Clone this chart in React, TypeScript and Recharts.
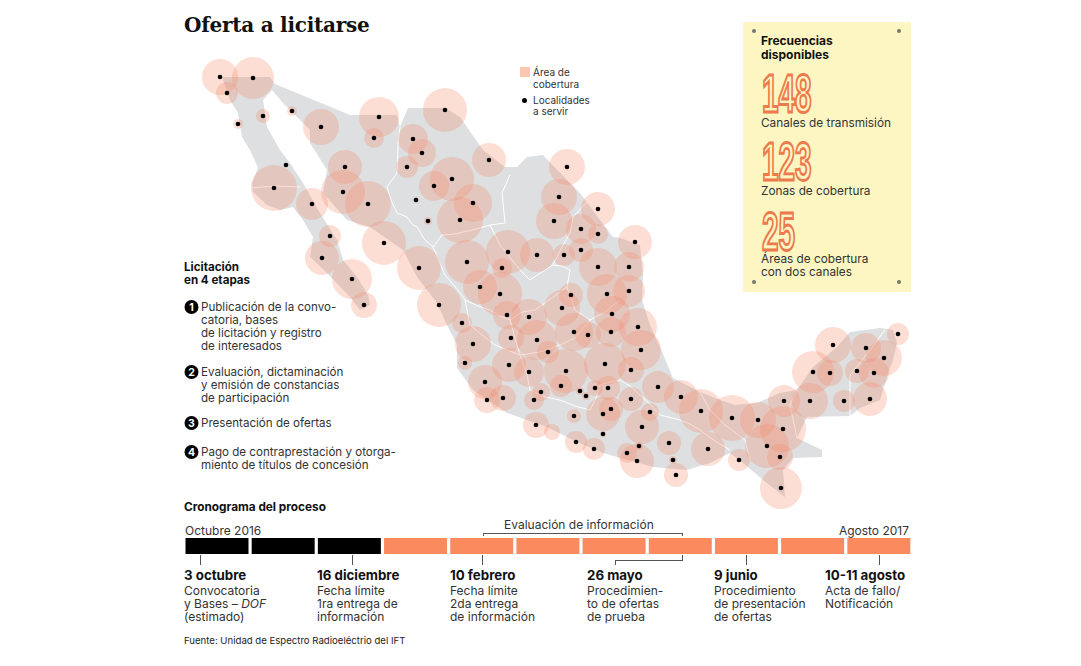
import React from 'react';
import { BarChart, Bar, Cell, ScatterChart, Scatter, XAxis, YAxis } from 'recharts';

const mapOutline = [
  [222, 77], [230, 100], [238, 113], [242, 137], [250, 150], [258, 168], [252, 183], [253, 192], [267, 205], [280, 210],
  [293, 207], [303, 220], [313, 237], [310, 257], [327, 273], [350, 297], [360, 310], [370, 305], [368, 295], [357, 277],
  [343, 260], [337, 240], [320, 213], [303, 183], [290, 163], [280, 150], [267, 127], [263, 100], [272, 90], [283, 103],
  [310, 130], [310, 143], [327, 170], [323, 193], [347, 220], [370, 227], [403, 250], [417, 277], [437, 303], [447, 325],
  [457, 345], [457, 368], [473, 390], [507, 413], [547, 427], [573, 440], [603, 453], [653, 467], [687, 470], [710, 463],
  [730, 453], [743, 463], [763, 480], [785, 497], [783, 470], [793, 458], [822, 457], [822, 450], [797, 438], [807, 417],
  [850, 416], [860, 408], [880, 400], [887, 377], [893, 360], [897, 343], [893, 330], [880, 328], [850, 332], [837, 347],
  [813, 367], [797, 390], [780, 393], [757, 403], [735, 405], [715, 398], [700, 392], [673, 378], [660, 347], [650, 325],
  [642, 300], [643, 275], [640, 245], [620, 238], [613, 237], [600, 220], [580, 193], [567, 180], [543, 155], [527, 157],
  [517, 167], [505, 167], [483, 150], [460, 117], [445, 108], [408, 108], [400, 127], [397, 115], [350, 115], [275, 84],
  [270, 77],
];

const stateBorders = [
  [[250, 188], [275, 186], [300, 187]],
  [[400, 127], [398, 145], [397, 173], [387, 187], [391, 200], [397, 213], [407, 217], [412, 224], [417, 227], [425, 240], [433, 247], [442, 235], [455, 234], [472, 230], [480, 228], [490, 225], [505, 223], [502, 193], [510, 175]],
  [[587, 202], [573, 217], [570, 233], [562, 247], [553, 265], [562, 266], [570, 270], [567, 287], [575, 310], [590, 320]],
  [[490, 225], [500, 245], [520, 270], [530, 280], [542, 272], [553, 265]],
  [[433, 247], [445, 275], [458, 290], [465, 300], [478, 306], [490, 310], [500, 316], [510, 320], [522, 312], [535, 310], [552, 298], [567, 287]],
  [[465, 300], [470, 325], [482, 335], [495, 345], [508, 350], [520, 355], [540, 352], [560, 345], [575, 338], [590, 320], [605, 312], [620, 300]],
  [[510, 320], [515, 338], [520, 355], [527, 375], [530, 390], [545, 397], [560, 400], [575, 406], [590, 410], [596, 398], [600, 385], [610, 382], [620, 380]],
  [[620, 380], [630, 386], [640, 395], [650, 404], [660, 415], [680, 420], [690, 424], [700, 430], [715, 441], [730, 450]],
  [[700, 392], [710, 410], [725, 425], [745, 440], [750, 460]],
  [[797, 390], [790, 405], [797, 438]],
  [[850, 416], [850, 375], [870, 350], [885, 330]],
];

// x, y, radius of each coverage area
const coverageAreas = [
  [220, 77, 18], [253, 78, 21], [227, 93, 11], [263, 116, 7], [238, 124, 5], [292, 111, 5], [321, 127, 18], [379, 117, 20],
  [374, 138, 10], [445, 110, 22], [413, 139, 15], [422, 153, 14], [407, 167, 11], [489, 160, 17], [345, 167, 17], [343, 192, 22],
  [368, 204, 23], [274, 188, 23], [286, 165, 2], [312, 204, 16], [434, 186, 15], [452, 179, 22], [416, 200, 3], [473, 203, 19],
  [460, 220, 23], [428, 221, 4], [330, 236, 11], [384, 243, 22], [322, 258, 17], [352, 279, 20], [364, 305, 13], [419, 268, 22],
  [467, 262, 22], [508, 252, 22], [502, 268, 10], [537, 255, 17], [480, 287, 17], [500, 294, 22], [439, 305, 22], [507, 315, 14],
  [529, 317, 18], [567, 167, 18], [559, 197, 18], [554, 221, 18], [598, 209, 17], [581, 229, 15], [598, 234, 10], [635, 242, 17],
  [581, 250, 12], [564, 255, 11], [598, 267, 19], [629, 267, 15], [629, 291, 16], [607, 294, 20], [571, 295, 12], [562, 308, 18],
  [612, 314, 18], [638, 327, 19], [462, 323, 10], [473, 344, 18], [511, 338, 13], [537, 340, 20], [574, 332, 19], [588, 335, 13],
  [611, 332, 15], [641, 350, 20], [465, 363, 7], [485, 382, 17], [487, 400, 13], [503, 398, 13], [548, 352, 11], [509, 365, 17],
  [529, 372, 15], [566, 371, 22], [561, 386, 11], [541, 392, 9], [534, 400, 10], [605, 364, 21], [631, 370, 13], [658, 387, 16],
  [681, 397, 17], [580, 391, 4], [586, 396, 4], [595, 388, 8], [608, 388, 12], [631, 399, 12], [611, 409, 12], [603, 414, 17],
  [650, 412, 9], [642, 427, 17], [574, 416, 7], [536, 425, 13], [552, 432, 8], [576, 442, 11], [594, 449, 11], [603, 434, 3],
  [639, 446, 4], [627, 453, 10], [637, 461, 17], [669, 443, 12], [673, 460, 4], [676, 475, 12], [701, 411, 22], [732, 418, 23],
  [708, 449, 17], [739, 460, 11], [758, 420, 18], [784, 401, 16], [783, 429, 23], [767, 446, 22], [780, 457, 13], [781, 488, 21],
  [810, 401, 18], [813, 372, 21], [830, 373, 13], [833, 345, 18], [866, 348, 15], [898, 334, 11], [884, 358, 18], [857, 371, 12],
  [874, 373, 15], [870, 399, 17], [844, 401, 11],
];

const noLocality = [[552, 432]];

const months = ['oct', 'nov', 'dic', 'ene', 'feb', 'mar', 'abr', 'may', 'jun', 'jul', 'ago'];
const doneMonths = 3;

const frequencies = [
  { value: '148', label: ['Canales de transmisión'] },
  { value: '123', label: ['Zonas de cobertura'] },
  { value: '25', label: ['Áreas de cobertura', 'con dos canales'] },
];

const stages = [
  ['Publicación de la convo-', 'catoria, bases', 'de licitación y registro', 'de interesados'],
  ['Evaluación, dictaminación', 'y emisión de constancias', 'de participación'],
  ['Presentación de ofertas'],
  ['Pago de contraprestación y otorga-', 'miento de títulos de concesión'],
];

const milestones = [
  { date: '3 octubre', text: ['Convocatoria', 'y Bases – ', '(estimado)'] },
  { date: '16 diciembre', text: ['Fecha límite', '1ra entrega de', 'información'] },
  { date: '10 febrero', text: ['Fecha límite', '2da entrega', 'de información'] },
  { date: '26 mayo', text: ['Procedimien-', 'to de ofertas', 'de prueba'] },
  { date: '9 junio', text: ['Procedimiento', 'de presentación', 'de ofertas'] },
  { date: '10-11 agosto', text: ['Acta de fallo/', 'Notificación'] },
];

const toPoints = (rows: number[][]) => rows.map(([x, y, r]) => ({ x, y, r }));
const localities = toPoints(coverageAreas.filter(([x, y]) => !noLocality.some(([a, b]) => a === x && b === y)));
const monthRows = months.map((month) => ({ month, value: 1 }));

const SANS = 'Inter, sans-serif';
const stageTops = [307, 372, 423, 452];
const milestoneLefts = [184, 317, 450, 587, 714, 825];
const tickLefts = [200, 352, 482, 746, 879];
const numberTops = [74, 142, 212];
const labelTops = [123, 191, 259];
const cornerDots = [[754, 31], [899, 31], [754, 282], [899, 282]];

const Txt: React.FC<{ x: number; y: number; size?: number; bold?: boolean; color?: string; right?: boolean; font?: string; spacing?: number; children: React.ReactNode }> = ({ x, y, size = 11.6, bold, color = '#333', right, font = SANS, spacing, children }) => (
  <div
    style={{
      position: 'absolute',
      top: y - 6,
      height: 12,
      lineHeight: '12px',
      left: right ? undefined : x,
      right: right ? 1081 - x : undefined,
      fontFamily: font,
      fontSize: size,
      fontWeight: bold ? 700 : 400,
      letterSpacing: spacing,
      color: bold ? '#111' : color,
      whiteSpace: 'nowrap',
    }}
  >
    {children}
  </div>
);

const Rule: React.FC<{ x: number; y: number; w: number; h: number; color?: string }> = ({ x, y, w, h, color = '#555' }) => (
  <div style={{ position: 'absolute', left: x, top: y, width: w, height: h, background: color }} />
);

const CoverageCircle = (props: any) => <circle cx={props.cx} cy={props.cy} r={props.payload.r} fill="#f58a68" fillOpacity={0.28} />;
const LocalityDot = (props: any) => <circle cx={props.cx} cy={props.cy} r={2.3} fill="#000" />;
const NoSymbol = () => <g />;

export default function App() {
  return (
    <div style={{ position: 'absolute', left: 0, top: 0, width: 1081, height: 666, background: '#fff', overflow: 'hidden' }}>
      <div style={{ position: 'absolute', left: 743, top: 22, width: 168, height: 270, background: '#fdf6c3' }} />
      {cornerDots.map(([x, y]) => (
        <div key={`${x}-${y}`} style={{ position: 'absolute', left: x - 2, top: y - 2, width: 4, height: 4, borderRadius: 2, background: '#77776a' }} />
      ))}

      <div style={{ position: 'absolute', left: 0, top: 0 }}>
        <ScatterChart width={1081} height={666} margin={{ top: 0, right: 0, bottom: 0, left: 0 }}>
          <XAxis type="number" dataKey="x" domain={[0, 1081]} hide />
          <YAxis type="number" dataKey="y" domain={[0, 666]} reversed hide />
          <Scatter data={toPoints(mapOutline)} shape={NoSymbol} line={{ stroke: 'none', fill: '#dddfe0' }} isAnimationActive={false} />
          {stateBorders.map((border, i) => (
            <Scatter key={i} data={toPoints(border)} shape={NoSymbol} line={{ stroke: '#fff', strokeWidth: 1, fill: 'none' }} isAnimationActive={false} />
          ))}
          <Scatter data={toPoints(coverageAreas)} shape={CoverageCircle} isAnimationActive={false} />
          <Scatter data={localities} shape={LocalityDot} isAnimationActive={false} />
        </ScatterChart>
      </div>

      <Txt x={184} y={25} size={20} bold font='"DejaVu Serif", serif' spacing={-0.25}>Oferta a licitarse</Txt>

      <Rule x={520} y={67} w={10} h={10} color="#f9c6b2" />
      <Txt x={533} y={72} size={10}>Área de</Txt>
      <Txt x={533} y={84} size={10}>cobertura</Txt>
      <div style={{ position: 'absolute', left: 522, top: 98, width: 5, height: 5, borderRadius: 3, background: '#000' }} />
      <Txt x={533} y={100} size={10}>Localidades</Txt>
      <Txt x={533} y={111} size={10}>a servir</Txt>

      <Txt x={761} y={41} size={12} bold>Frecuencias</Txt>
      <Txt x={761} y={55} size={12} bold>disponibles</Txt>
      <svg width={1081} height={666} style={{ position: 'absolute', left: 0, top: 0 }}>
        {frequencies.map((f, i) => (
          <text
            key={f.value}
            x={0}
            y={0}
            transform={`translate(762 ${numberTops[i] + 38}) scale(0.56 1)`}
            fontFamily='"Liberation Sans", sans-serif'
            fontSize={53}
            fontWeight={700}
            fill="#fdf6c3"
            stroke="#ec7a4c"
            strokeWidth={2.3}
            vectorEffect="non-scaling-stroke"
          >
            {f.value}
          </text>
        ))}
        {stages.map((_, i) => (
          <g key={i}>
            <circle cx={191.5} cy={stageTops[i]} r={7} fill="#000" />
            <text x={191.5} y={stageTops[i] + 4} textAnchor="middle" fontFamily={SANS} fontSize={10.5} fontWeight={700} fill="#fff">{i + 1}</text>
          </g>
        ))}
      </svg>
      {frequencies.map((f, i) =>
        f.label.map((line, j) => (
          <Txt key={line} x={761} y={labelTops[i] + j * 13} size={11.8}>{line}</Txt>
        )),
      )}

      <Txt x={184} y={267} size={11.6} bold>Licitación</Txt>
      <Txt x={184} y={280} size={11.6} bold>en 4 etapas</Txt>
      {stages.map((lines, i) =>
        lines.map((line, j) => (
          <Txt key={line} x={201} y={stageTops[i] + j * 13}>{line}</Txt>
        )),
      )}

      <Txt x={184} y={507} size={11.8} bold>Cronograma del proceso</Txt>
      <Txt x={185} y={531} size={12}>Octubre 2016</Txt>
      <Txt x={909} y={531} size={12} right>Agosto 2017</Txt>
      <Txt x={504} y={525} size={12}>Evaluación de información</Txt>
      <Rule x={483} y={533} w={200} h={1} />
      <Rule x={483} y={533} w={1} h={3} />
      <Rule x={682} y={533} w={1} h={3} />

      <div style={{ position: 'absolute', left: 183.5, top: 538 }}>
        <BarChart width={728} height={16} data={monthRows} margin={{ top: 0, right: 0, bottom: 0, left: 0 }} barCategoryGap={1.5}>
          <XAxis dataKey="month" hide />
          <YAxis domain={[0, 1]} hide />
          <Bar dataKey="value" isAnimationActive={false}>
            {monthRows.map((row, i) => (
              <Cell key={row.month} fill={i < doneMonths ? '#000' : '#fb8a5f'} />
            ))}
          </Bar>
        </BarChart>
      </div>

      {tickLefts.map((x) => (
        <Rule key={x} x={x} y={555} w={1} h={10} />
      ))}
      <Rule x={615} y={560} w={68} h={1} />
      <Rule x={615} y={560} w={1} h={5} />
      <Rule x={682} y={555} w={1} h={5} />

      {milestones.map((m, i) => (
        <React.Fragment key={m.date}>
          <Txt x={milestoneLefts[i]} y={575} size={13.3} bold>{m.date}</Txt>
          {m.text.map((line, j) => (
            <Txt key={line} x={milestoneLefts[i]} y={591 + j * 13} size={12}>
              {line}
              {line.endsWith('– ') && <i>DOF</i>}
            </Txt>
          ))}
        </React.Fragment>
      ))}

      <Txt x={184} y={641} size={9.6} color="#222">Fuente: Unidad de Espectro Radioeléctrio del IFT</Txt>
    </div>
  );
}
